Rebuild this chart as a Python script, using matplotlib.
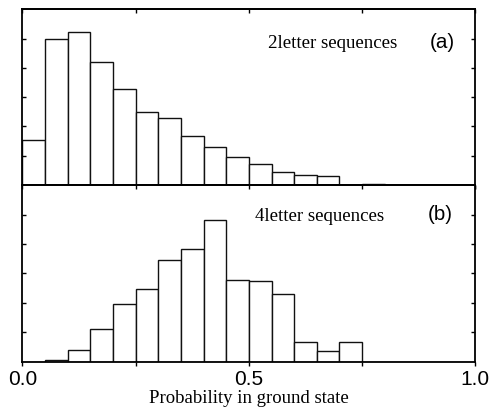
import numpy as np
import matplotlib.pyplot as plt

# ---- data (histogram heights, arbitrary units, bins of 0.05) ----
bin_edges = np.arange(0.0, 1.0001, 0.05)
counts_2letter = [1.54, 4.98, 5.24, 4.19, 3.27, 2.49, 2.28, 1.67, 1.29, 0.97,
                  0.73, 0.46, 0.35, 0.32, 0.02, 0.05, 0, 0, 0, 0]
counts_4letter = [0, 0.06, 0.39, 1.12, 1.97, 2.46, 3.45, 3.84, 4.81, 2.79,
                  2.75, 2.30, 0.66, 0.37, 0.66, 0, 0, 0, 0, 0]
panel_titles = ["2letter sequences", "4letter sequences"]
panel_tags = ["(a)", "(b)"]
xtick_pos = [0.0, 0.25, 0.5, 0.75, 1.0]
xtick_lab = ["0.0", "", "0.5", "", "1.0"]

fig = plt.figure(figsize=(4.91, 4.15), dpi=100)
ax_a = fig.add_axes([0.0458, 0.554, 0.9222, 0.4236])
ax_b = fig.add_axes([0.0458, 0.1284, 0.9222, 0.4256])

sans = "Liberation Sans"
serif = "Liberation Serif"

for i, (ax, counts) in enumerate([(ax_a, counts_2letter), (ax_b, counts_4letter)]):
    ax.bar(bin_edges[:-1], counts, width=0.05, align="edge",
           facecolor="white", edgecolor="#111111", linewidth=1.0)
    ax.set_xlim(0, 1)
    ax.set_ylim(0, 6)
    ax.set_yticks([1, 2, 3, 4, 5])
    ax.set_yticklabels([])
    ax.tick_params(axis="y", direction="in", left=True, right=True, length=3, width=1)
    ax.set_xticks(xtick_pos)
    ax.tick_params(axis="x", direction="out", top=False, length=3, width=1)
    # top ticks point inward
    sec = ax.secondary_xaxis("top")
    sec.set_xticks(xtick_pos)
    sec.set_xticklabels([])
    sec.tick_params(direction="in", length=3, width=1)
    for s in ax.spines.values():
        s.set_linewidth(1.3)
    sec.spines["top"].set_linewidth(1.3)
    ax.text(0.685 if i == 0 else 0.657, 4.82 if i == 0 else 4.92, panel_titles[i],
            fontsize=13.6, family=serif, ha="center", va="center")
    ax.text(0.928 if i == 0 else 0.922, 4.88 if i == 0 else 4.99, panel_tags[i],
            fontsize=14.8, family=sans, ha="center", va="center")

ax_a.set_xticklabels([])
ax_b.set_xticklabels(xtick_lab, family=sans, fontsize=15)
ax_b.tick_params(axis="x", pad=3)
ax_b.set_xlabel("Probability in ground state", family=serif, fontsize=13.5, labelpad=1)

fig.savefig("out.png", dpi=100)
